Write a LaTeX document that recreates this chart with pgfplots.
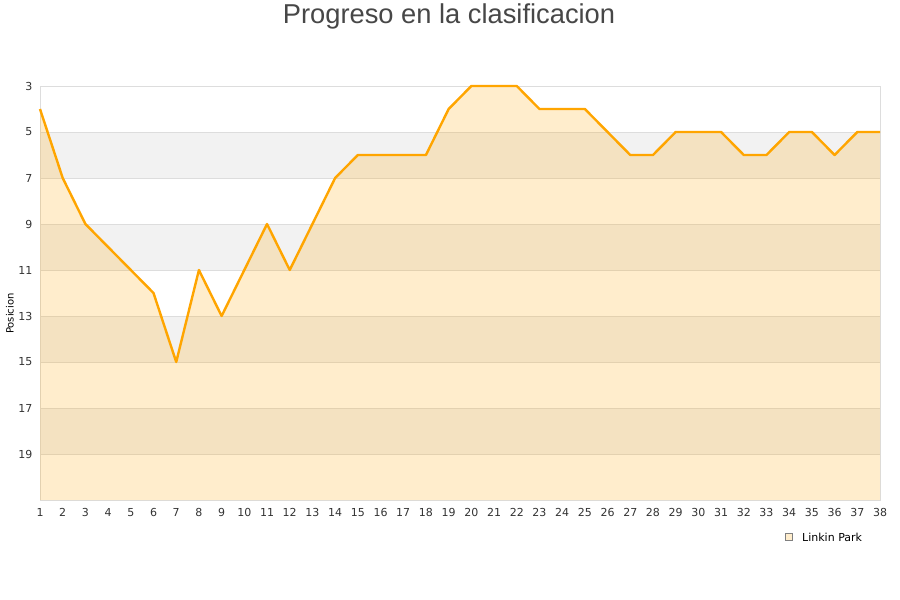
\documentclass[border=0pt]{standalone}
\usepackage{pgfplots}
\pgfplotsset{compat=1.18}
\usepackage{fontspec}
\setmainfont{DejaVu Sans}
\newfontfamily\titlefont{Liberation Sans}
\usetikzlibrary{backgrounds}
\pgfplotsset{/pgf/number format/assume math mode=true}

\definecolor{lineor}{RGB}{255,165,0}
\definecolor{bandgray}{RGB}{242,242,242}
\definecolor{gridc}{RGB}{221,221,221}
\definecolor{ticktext}{RGB}{51,51,51}

\begin{document}
\begin{tikzpicture}
\useasboundingbox[fill=white] (0pt,0pt) rectangle (900pt,600pt);
\node[font=\titlefont\fontsize{27.3}{30}\selectfont, text=ticktext!90] at (449pt,584pt) {Progreso en la clasificacion};
% legend
\draw[gray, fill=lineor!20, line width=0.6pt] (785.5pt,59.5pt) rectangle (792.5pt,66.5pt);
\node[anchor=west, font=\fontsize{11}{13}\selectfont, inner sep=0pt] at (802pt,63pt) {Linkin Park};
\begin{axis}[
  at={(40pt,100pt)}, anchor=south west,
  scale only axis, width=840pt, height=414pt,
  xmin=1, xmax=38, ymin=3, ymax=21, y dir=reverse,
  xtick={1,...,38}, ytick={3,5,...,19},
  major tick length=0pt,
  tick label style={font=\fontsize{11}{13}\selectfont, text=ticktext},
  xticklabel style={yshift=-5pt},
  yticklabel style={xshift=-4pt},
  axis line style={gridc},
  ymajorgrids, grid style={gridc, line width=0.8pt},
  ylabel={Posicion}, ylabel style={font=\fontsize{10}{12}\selectfont, text=ticktext},
  every axis y label/.style={at={(-30pt,0.45)}, rotate=90, anchor=center},
  clip=false,
]
\begin{pgfonlayer}{background}
\foreach \a in {5,9,13,17} {
  \edef\tmp{\noexpand\fill[bandgray] (axis cs:1,\a) rectangle (axis cs:38,\a+2);}
  \tmp
}
\end{pgfonlayer}
\addplot[draw=none, fill=lineor, fill opacity=0.2] coordinates {
(1,21) (1,4) (2,7) (3,9) (4,10) (5,11) (6,12) (7,15) (8,11) (9,13) (10,11)
(11,9) (12,11) (13,9) (14,7) (15,6) (16,6) (17,6) (18,6) (19,4) (20,3)
(21,3) (22,3) (23,4) (24,4) (25,4) (26,5) (27,6) (28,6) (29,5) (30,5)
(31,5) (32,6) (33,6) (34,5) (35,5) (36,6) (37,5) (38,5) (38,21)} -- cycle;
\addplot[lineor, line width=2.4pt, line join=round] coordinates {
(1,4) (2,7) (3,9) (4,10) (5,11) (6,12) (7,15) (8,11) (9,13) (10,11)
(11,9) (12,11) (13,9) (14,7) (15,6) (16,6) (17,6) (18,6) (19,4) (20,3)
(21,3) (22,3) (23,4) (24,4) (25,4) (26,5) (27,6) (28,6) (29,5) (30,5)
(31,5) (32,6) (33,6) (34,5) (35,5) (36,6) (37,5) (38,5)};
\end{axis}
\end{tikzpicture}
\end{document}
